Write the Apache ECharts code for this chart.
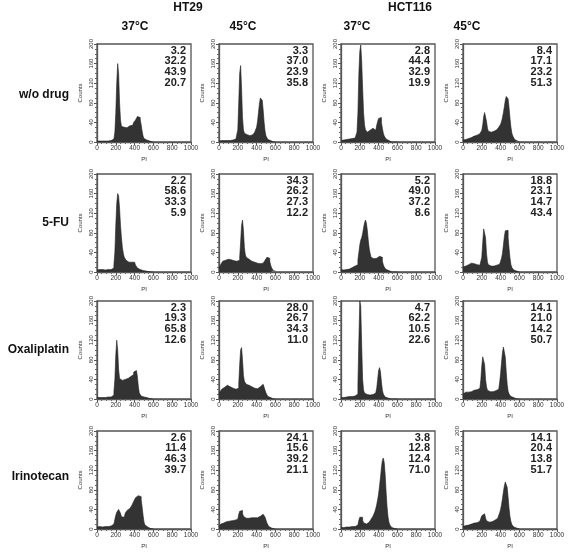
<!DOCTYPE html>
<html>
<head>
<meta charset="utf-8">
<script src="https://cdn.jsdelivr.net/npm/echarts@6/dist/echarts.min.js"></script>
<style>html,body{margin:0;padding:0;background:#fff}#c{width:569px;height:553px}</style>
</head>
<body>
<div id="c"></div>
<script>
// ---------- data ----------
const cellLines = ['HT29', 'HCT116'];
const temps = ['37°C', '45°C', '37°C', '45°C'];
const drugs = ['w/o drug', '5-FU', 'Oxaliplatin', 'Irinotecan'];
const binWidth = 10; // PI units per histogram bin, bins start at 0
const xTicks = [0, 200, 400, 600, 800, 1000];
const yTicks = [0, 40, 80, 120, 160, 200];

// phase percentages (rows = drugs, cols = HT29 37, HT29 45, HCT116 37, HCT116 45)
const pctRow1 = [[3.2, 32.2, 43.9, 20.7], [3.3, 37.0, 23.9, 35.8], [2.8, 44.4, 32.9, 19.9], [8.4, 17.1, 23.2, 51.3]];
const pctRow2 = [[2.2, 58.6, 33.3, 5.9], [34.3, 26.2, 27.3, 12.2], [5.2, 49.0, 37.2, 8.6], [18.8, 23.1, 14.7, 43.4]];
const pctRow3 = [[2.3, 19.3, 65.8, 12.6], [28.0, 26.7, 34.3, 11.0], [4.7, 62.2, 10.5, 22.6], [14.1, 21.0, 14.2, 50.7]];
const pctRow4 = [[2.6, 11.4, 46.3, 39.7], [24.1, 15.6, 39.2, 21.1], [3.8, 12.8, 12.4, 71.0], [14.1, 20.4, 13.8, 51.7]];

// histogram counts per 10-unit PI bin
const h_HT29_37_wo = [2,2,2,2,3,2,2,3,2,2,3,2,3,3,3,3,4,6,10,20,60,120,160,140,80,45,32,28,30,28,30,29,31,30,33,32,35,34,38,40,42,45,48,52,56,50,45,35,22,12,7,5,4,3,2,2,1,1,0,0,0];
const h_HT29_45_wo = [2,3,3,3,3,3,3,3,3,3,3,3,3,4,4,5,5,6,8,10,25,80,140,156,110,50,25,18,16,15,14,14,13,14,14,15,16,18,20,24,30,42,60,78,90,94,85,65,40,22,12,8,5,4,3,2,1,0,0,0,0];
const h_HCT116_37_wo = [3,3,4,4,4,5,5,5,6,6,7,7,8,8,8,9,10,20,60,140,185,198,165,110,60,35,25,22,20,22,24,21,25,28,30,26,24,28,34,42,48,52,50,40,28,18,12,8,6,4,3,2,1,0,0,0,0,0,0,0,0];
const h_HCT116_45_wo = [4,5,5,6,6,7,8,8,9,10,11,12,13,14,14,15,16,17,18,20,24,35,52,60,58,42,28,22,20,20,21,21,22,23,24,25,27,28,30,33,36,42,50,60,72,85,93,95,88,70,48,30,18,12,8,5,3,2,1,0,0];

const h_HT29_37_5fu = [4,4,5,5,4,5,5,5,4,5,5,5,5,5,5,5,6,8,15,40,95,140,160,155,130,95,70,50,38,30,26,24,22,20,20,19,20,22,22,20,18,14,10,8,6,5,4,3,3,2,2,2,1,1,1,0,0,0,0,0,0];
const h_HT29_45_5fu = [8,12,16,20,22,23,24,25,25,26,25,26,25,24,24,23,22,22,22,21,22,24,30,60,95,106,85,50,35,30,28,26,24,24,22,22,20,20,19,19,18,18,18,17,17,18,18,18,20,24,28,30,30,28,22,14,8,5,3,2,1];
const h_HCT116_37_5fu = [5,5,4,4,4,5,5,6,6,7,8,9,10,11,12,12,13,15,25,40,55,65,70,78,90,100,106,100,85,65,48,38,30,28,27,28,27,28,30,30,32,35,34,30,22,15,10,7,5,4,3,2,1,0,0,0,0,0,0,0,0];
const h_HCT116_45_5fu = [10,12,12,13,14,15,16,17,18,19,18,17,16,16,15,15,14,14,15,18,30,60,88,90,70,38,20,15,13,12,12,12,12,13,13,14,14,15,16,18,22,28,38,55,72,84,88,85,70,48,28,15,9,6,4,3,2,1,0,0,0];

const h_HT29_37_oxa = [3,3,3,4,3,3,4,3,3,4,3,4,4,4,4,4,5,8,15,40,90,120,100,60,42,40,38,40,39,40,41,42,42,44,45,46,48,48,50,55,58,58,55,45,25,12,8,6,5,4,4,3,3,2,2,1,0,0,0,0,0];
const h_HT29_45_oxa = [8,15,18,20,22,24,26,27,28,28,26,25,24,22,22,21,20,20,19,20,22,30,70,100,105,80,48,36,32,30,29,28,27,26,25,24,23,22,22,21,21,22,23,25,27,29,30,28,24,18,12,8,5,4,3,2,1,0,0,0,0];
const h_HCT116_37_oxa = [3,3,3,4,4,4,4,5,5,5,5,5,5,6,6,6,7,10,30,120,200,190,110,40,18,12,10,9,8,8,8,8,9,9,10,11,12,15,22,40,58,64,55,35,18,10,6,4,3,2,2,1,0,0,0,0,0,0,0,0,0];
const h_HCT116_45_oxa = [10,13,14,14,15,14,15,16,15,16,17,18,18,19,19,20,20,22,26,40,68,86,88,70,40,25,18,16,15,15,15,15,16,16,17,17,18,20,24,34,52,75,95,106,104,85,55,30,16,10,7,5,4,3,2,1,0,0,0,0,0];

const h_HT29_37_iri = [4,4,5,4,4,4,4,5,5,5,5,5,5,6,6,7,8,10,14,20,28,34,38,40,38,32,25,22,24,28,32,36,38,40,42,44,46,48,52,56,60,64,66,68,67,68,66,60,45,28,14,8,5,4,3,2,1,0,0,0,0];
const h_HT29_45_iri = [5,8,10,12,12,13,14,15,14,15,16,15,16,17,16,17,18,18,19,20,24,30,36,40,38,32,26,24,22,24,23,22,24,22,23,24,22,23,24,22,23,24,25,26,27,28,30,30,28,24,18,12,8,5,3,2,1,0,0,0,0];
const h_HCT116_37_iri = [3,3,3,3,4,4,4,4,4,4,5,5,5,5,5,5,6,8,12,18,24,26,24,18,13,11,10,11,12,14,16,18,20,23,26,30,35,42,50,60,72,88,105,125,140,145,135,110,75,45,25,14,8,5,3,2,1,0,0,0,0];
const h_HCT116_45_iri = [5,6,7,7,8,8,9,9,10,10,11,12,12,13,13,14,15,16,18,22,27,30,31,28,22,17,15,14,14,15,15,16,17,18,19,20,22,24,28,33,40,50,62,76,88,96,95,85,65,42,25,15,9,6,4,3,2,1,0,0,0];

const histRows = [
  [h_HT29_37_wo, h_HT29_45_wo, h_HCT116_37_wo, h_HCT116_45_wo],
  [h_HT29_37_5fu, h_HT29_45_5fu, h_HCT116_37_5fu, h_HCT116_45_5fu],
  [h_HT29_37_oxa, h_HT29_45_oxa, h_HCT116_37_oxa, h_HCT116_45_oxa],
  [h_HT29_37_iri, h_HT29_45_iri, h_HCT116_37_iri, h_HCT116_45_iri]
];
const pctRows = [pctRow1, pctRow2, pctRow3, pctRow4];

// ---------- layout ----------
const gLeft = [97, 219, 341, 463];
const gTop = [44, 174, 301, 431];
const gW = 94, gH = 98;
const FONT = 'Liberation Sans, Arial, sans-serif';

const grids = [], xAxes = [], yAxes = [], series = [], graphics = [];
let k = 0;
for (let r = 0; r < 4; r++) {
  for (let c = 0; c < 4; c++) {
    grids.push({left: gLeft[c], top: gTop[r], width: gW, height: gH, show: true,
      borderColor: '#555', borderWidth: 1.3, backgroundColor: '#fff'});
    xAxes.push({type: 'value', gridIndex: k, min: xTicks[0], max: xTicks[xTicks.length - 1],
      interval: xTicks[1] - xTicks[0],
      name: 'PI', nameLocation: 'middle', nameGap: 14,
      nameTextStyle: {fontSize: 6, color: '#333', fontFamily: FONT},
      axisLine: {show: true, lineStyle: {color: '#555', width: 1.3}},
      axisTick: {show: true, length: 3, lineStyle: {color: '#555'}},
      minorTick: {show: true, splitNumber: 4, length: 2, lineStyle: {color: '#666'}},
      axisLabel: {fontSize: 6.5, color: '#333', margin: 3, fontFamily: FONT, showMaxLabel: true,
        formatter: v => String(v)},
      splitLine: {show: false}});
    yAxes.push({type: 'value', gridIndex: k, min: yTicks[0], max: yTicks[yTicks.length - 1],
      interval: yTicks[1] - yTicks[0],
      name: 'Counts', nameLocation: 'middle', nameGap: 14, nameRotate: 90,
      nameTextStyle: {fontSize: 6, color: '#333', fontFamily: FONT},
      axisLine: {show: true, lineStyle: {color: '#555', width: 1.3}},
      axisTick: {show: true, length: 3, lineStyle: {color: '#555'}},
      minorTick: {show: true, splitNumber: 4, length: 2, lineStyle: {color: '#666'}},
      axisLabel: {fontSize: 6, color: '#333', margin: 3, rotate: 90, fontFamily: FONT,
        formatter: v => String(v)},
      splitLine: {show: false}});
    const h = histRows[r][c];
    series.push({type: 'line', xAxisIndex: k, yAxisIndex: k, step: 'end', symbol: 'none',
      clip: true, animation: false,
      lineStyle: {color: '#222', width: 0.6},
      areaStyle: {color: '#333', opacity: 1},
      data: h.map((v, i) => [i * binWidth, v])});
    // percentage labels
    const p = pctRows[r][c];
    graphics.push({type: 'text', right: 569 - (gLeft[c] + gW - 5), top: gTop[r] + 1,
      style: {text: p.map(v => v.toFixed(1)).join('\n'), textAlign: 'right',
        font: 'bold 11px ' + FONT, fill: '#222', lineHeight: 10.8}});
    k++;
  }
}
// column / row headers
const headerCenters = [188, 410];
cellLines.forEach((t, i) => graphics.push({type: 'text', x: headerCenters[i], y: 8,
  style: {text: t, textAlign: 'center', textVerticalAlign: 'middle', font: 'bold 12px ' + FONT, fill: '#111'}}));
const tempCenters = [135, 243, 357, 467];
temps.forEach((t, i) => graphics.push({type: 'text', x: tempCenters[i], y: 27,
  style: {text: t, textAlign: 'center', textVerticalAlign: 'middle', font: 'bold 12px ' + FONT, fill: '#111'}}));
const rowCenters = [95, 223, 350, 477];
drugs.forEach((t, i) => graphics.push({type: 'text', x: 69, y: rowCenters[i],
  style: {text: t, textAlign: 'right', textVerticalAlign: 'middle', font: 'bold 12px ' + FONT, fill: '#111'}}));

const chart = echarts.init(document.getElementById('c'), null, {renderer: 'canvas'});
chart.setOption({animation: false, backgroundColor: '#fff',
  grid: grids, xAxis: xAxes, yAxis: yAxes, series: series, graphic: graphics});
</script>
</body>
</html>
